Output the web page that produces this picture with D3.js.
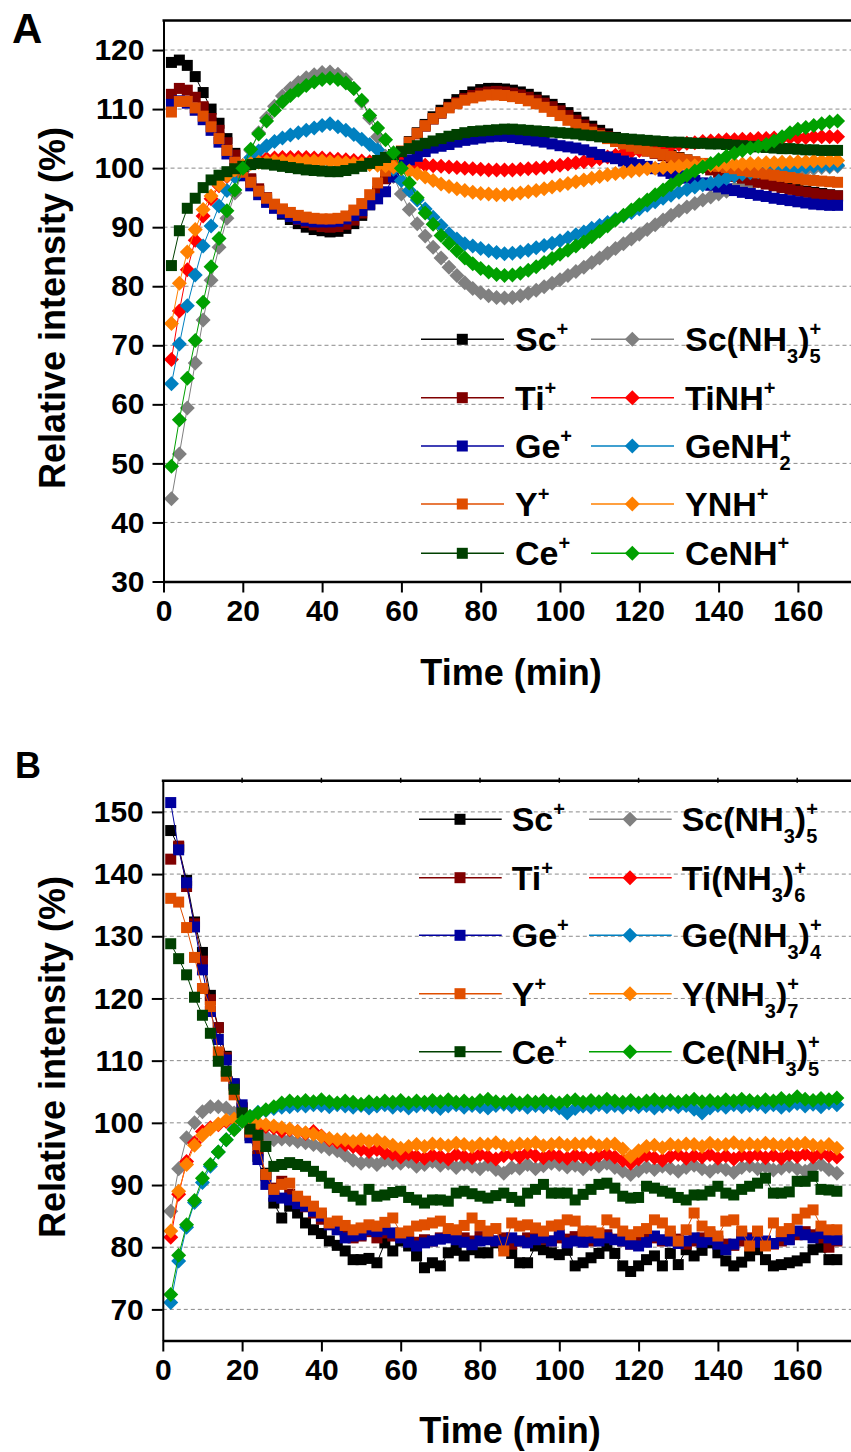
<!DOCTYPE html>
<html><head><meta charset="utf-8">
<script src="https://cdn.jsdelivr.net/npm/d3@7/dist/d3.min.js"></script>
<style>
body{margin:0;background:#fff}
svg text{font-family:Arial,"Liberation Sans",sans-serif;font-weight:bold;fill:#000}
</style>
</head><body>
<svg id="chart" width="851" height="1452"></svg>
<script>
// ---------- DATA ----------
const times=[2,4,6,8,10,12,14,16,18,20,22,24,26,28,30,32,34,36,38,40,42,44,46,48,50,52,54,56,58,60,62,64,66,68,70,72,74,76,78,80,82,84,86,88,90,92,94,96,98,100,102,104,106,108,110,112,114,116,118,120,122,124,126,128,130,132,134,136,138,140,142,144,146,148,150,152,154,156,158,160,162,164,166,168,170];
const xTicks=[0,20,40,60,80,100,120,140,160];
const yTicksA=[30,40,50,60,70,80,90,100,110,120];
const yTicksB=[70,80,90,100,110,120,130,140,150];

// Panel A (ammonia-adduct profiles)
const aSc=[117.9,118.3,117.4,115.5,112.8,110.0,107.6,105.0,102.5,100.2,98.0,96.2,94.6,93.3,92.2,91.3,90.6,90.0,89.6,89.4,89.2,89.3,89.8,90.6,92.0,93.8,96.0,98.3,100.6,102.6,104.5,106.0,107.4,108.7,109.8,110.8,111.6,112.3,112.9,113.3,113.5,113.5,113.4,113.2,112.9,112.5,112.0,111.4,110.8,110.1,109.4,108.6,107.8,107.1,106.4,105.8,105.2,104.7,104.2,103.8,103.4,103.0,102.6,102.2,101.8,101.4,101.0,100.6,100.2,99.8,99.4,99.0,98.6,98.2,97.9,97.6,97.3,97.0,96.7,96.4,96.1,95.9,95.7,95.5,95.3];
const aTi=[112.5,113.5,113.2,112.0,110.4,108.4,106.4,104.3,102.2,100.2,98.2,96.5,95.0,93.8,92.8,92.0,91.3,90.8,90.4,90.1,90.0,90.1,90.5,91.2,92.4,94.0,96.0,98.2,100.4,102.4,104.2,105.8,107.1,108.3,109.3,110.3,111.1,111.8,112.3,112.7,112.9,113.0,112.9,112.7,112.4,112.0,111.5,111.0,110.4,109.7,108.9,108.1,107.3,106.6,105.9,105.3,104.7,104.2,103.7,103.3,102.9,102.5,102.1,101.7,101.3,100.9,100.5,100.1,99.7,99.3,99.0,98.6,98.3,98.0,97.6,97.3,97.0,96.7,96.4,96.1,95.9,95.7,95.5,95.4,95.3];
const aGe=[110.8,111.4,111.0,109.8,108.2,106.4,104.4,102.4,100.5,98.7,97.0,95.5,94.2,93.2,92.4,91.8,91.4,91.1,90.9,90.9,90.9,91.0,91.4,92.0,92.8,93.8,94.8,96.0,98.5,100.5,101.4,102.0,102.8,103.4,103.7,104.0,104.4,104.7,104.9,105.1,105.3,105.4,105.4,105.2,105.0,104.8,104.6,104.4,104.1,103.8,103.6,103.4,103.1,102.7,102.3,101.9,101.6,101.2,100.9,100.6,100.3,99.9,99.5,99.1,98.7,98.3,97.9,97.5,97.1,96.8,96.5,96.2,95.9,95.7,95.4,95.2,94.9,94.7,94.5,94.3,94.1,93.9,93.8,93.7,93.7];
const aY=[109.5,111.3,111.3,110.2,108.8,107.0,105.0,103.0,101.0,99.3,97.6,96.1,94.9,93.9,93.1,92.5,92.0,91.7,91.5,91.4,91.4,91.5,91.9,92.9,94.0,95.5,97.5,99.5,101.3,102.9,104.4,105.9,107.2,108.4,109.4,110.2,110.9,111.5,111.9,112.2,112.4,112.4,112.3,112.1,111.8,111.4,110.9,110.3,109.6,108.9,108.1,107.4,106.7,106.1,105.5,105.0,104.5,104.1,103.7,103.3,102.9,102.6,102.3,102.0,101.7,101.4,101.1,100.8,100.6,100.3,100.1,99.9,99.6,99.4,99.2,99.0,98.8,98.6,98.4,98.2,98.0,97.9,97.8,97.7,97.6];
const aCe=[83.5,89.4,93.2,94.9,96.7,98.0,98.8,99.4,99.9,100.3,100.6,100.8,100.7,100.5,100.3,100.1,99.9,99.7,99.6,99.5,99.4,99.4,99.6,99.9,100.3,100.8,101.3,101.8,102.3,102.8,103.3,103.8,104.2,104.6,105.0,105.4,105.7,106.0,106.2,106.3,106.4,106.5,106.6,106.6,106.5,106.4,106.3,106.2,106.1,106.0,105.9,105.8,105.6,105.5,105.3,105.2,105.1,105.0,104.9,104.8,104.7,104.6,104.5,104.4,104.4,104.3,104.2,104.2,104.1,104.1,104.0,103.9,103.8,103.7,103.6,103.5,103.4,103.3,103.3,103.2,103.1,103.1,103.0,103.0,103.0];
const aScN=[44.0,51.6,59.4,67.0,74.3,81.0,86.6,91.5,95.8,99.5,103.0,106.0,108.5,110.5,112.2,113.5,114.5,115.3,115.8,116.2,116.3,115.9,115.0,113.5,111.3,108.5,105.3,102.0,98.6,95.6,93.0,90.6,88.5,86.6,84.8,83.2,81.8,80.6,79.6,78.9,78.4,78.1,78.0,78.1,78.4,78.8,79.3,79.9,80.5,81.1,81.8,82.5,83.2,84.0,84.8,85.6,86.4,87.2,88.0,88.8,89.6,90.4,91.2,92.0,92.8,93.4,94.0,94.6,95.1,95.6,96.1,96.6,97.0,97.4,97.8,98.2,98.6,98.9,99.2,99.5,99.7,99.9,100.1,100.2,100.3];
const aTiN=[67.6,75.8,82.8,87.8,91.9,94.8,97.0,98.6,99.6,100.4,101.0,101.4,101.6,101.7,101.8,101.8,101.8,101.8,101.7,101.7,101.6,101.5,101.4,101.3,101.2,101.1,101.0,100.9,100.9,100.8,100.7,100.6,100.5,100.4,100.3,100.2,100.1,100.0,99.9,99.8,99.7,99.7,99.7,99.7,99.8,99.9,100.0,100.1,100.3,100.5,100.7,100.9,101.1,101.3,101.6,101.9,102.2,102.5,102.8,103.0,103.2,103.4,103.6,103.8,104.0,104.2,104.3,104.5,104.6,104.7,104.8,104.8,104.9,104.9,105.0,105.0,105.1,105.1,105.2,105.2,105.2,105.3,105.3,105.3,105.3];
const aGeN=[63.5,70.2,76.7,81.9,86.8,90.2,93.6,96.2,98.5,100.4,101.8,102.9,103.8,104.5,105.1,105.6,106.0,106.4,106.8,107.2,107.5,107.0,106.4,105.7,104.9,104.0,103.1,101.6,99.8,97.9,96.2,94.6,93.1,91.7,90.3,88.9,88.0,87.2,86.8,86.4,86.0,85.7,85.5,85.6,85.8,86.1,86.5,86.9,87.3,87.7,88.2,88.7,89.2,89.8,90.3,90.8,91.4,91.9,92.5,93.1,93.7,94.3,94.9,95.4,95.9,96.4,96.8,97.2,97.5,97.8,98.3,98.7,99.0,99.2,99.4,99.6,99.8,99.9,100.0,100.1,100.2,100.3,100.4,100.4,100.5];
const aYN=[73.7,80.5,85.8,89.6,93.0,95.3,97.2,98.7,99.7,100.4,100.8,101.0,101.1,101.2,101.2,101.2,101.2,101.2,101.2,101.2,101.1,101.0,100.9,100.8,100.7,100.6,100.5,100.4,100.2,99.9,99.5,99.1,98.5,97.9,97.3,96.9,96.5,96.2,95.9,95.7,95.6,95.5,95.5,95.6,95.8,96.0,96.2,96.5,96.8,97.1,97.4,97.7,98.0,98.3,98.6,98.9,99.1,99.3,99.5,99.7,99.9,100.0,100.1,100.2,100.3,100.4,100.4,100.5,100.5,100.6,100.6,100.7,100.7,100.8,100.8,100.9,100.9,101.0,101.0,101.1,101.1,101.2,101.2,101.3,101.3];
const aCeN=[49.5,57.4,64.4,70.8,77.3,83.3,88.1,92.8,96.3,100.0,103.2,105.8,108.0,109.8,111.2,112.3,113.2,114.0,114.6,115.0,115.2,115.0,114.4,113.5,111.5,108.9,106.8,104.8,102.6,100.0,97.5,95.0,92.4,90.5,88.6,87.3,86.0,84.8,83.8,83.0,82.4,82.0,81.8,81.9,82.2,82.7,83.3,84.0,84.7,85.4,86.1,86.8,87.5,88.4,89.3,90.2,91.2,92.0,92.9,93.8,94.6,95.5,96.3,97.2,98.0,98.8,99.5,100.2,100.8,101.4,102.0,102.5,103.0,103.4,103.7,104.0,104.6,105.3,106.0,106.6,106.9,107.2,107.5,107.8,108.0];

// Panel B (cluster profiles)
const bSc=[147.0,144.3,139.0,132.3,127.4,120.5,115.3,110.7,106.0,102.3,98.0,94.6,91.9,87.1,84.7,86.6,85.5,83.9,82.8,82.2,81.0,80.3,79.4,78.0,78.0,78.2,77.5,80.7,79.4,81.0,80.2,78.6,76.7,77.5,77.0,79.1,79.5,78.6,79.6,79.1,79.1,80.7,80.2,79.0,77.5,77.5,80.2,79.6,79.1,78.8,79.5,77.0,77.5,78.3,79.0,80.2,79.0,77.0,76.1,77.0,78.0,78.6,77.0,79.0,77.2,79.6,78.6,79.5,80.7,79.1,77.8,77.0,77.6,78.6,79.6,78.0,77.0,77.2,77.5,77.8,78.3,79.6,80.0,78.0,78.0];
const bTi=[142.4,144.5,138.0,132.0,126.0,119.8,115.3,110.5,106.2,102.5,98.5,95.5,91.5,89.5,90.6,88.5,87.5,86.5,85.5,84.5,83.8,82.9,82.5,81.5,81.8,82.5,81.5,82.3,81.8,82.0,81.5,80.8,81.2,81.0,81.5,81.8,82.0,81.5,81.0,81.7,81.3,81.0,81.5,80.5,81.0,81.5,82.0,81.3,81.0,81.5,81.3,81.7,82.0,81.0,81.5,82.0,81.3,81.0,80.5,81.0,81.8,81.5,81.0,81.7,81.3,80.5,81.0,81.5,82.0,81.0,80.5,80.3,81.0,81.5,82.0,80.8,80.5,81.0,81.3,82.0,82.5,82.0,81.5,80.0,81.0];
const bGe=[151.5,143.9,138.6,131.5,124.6,117.9,113.4,110.1,106.3,102.9,97.6,94.1,90.1,88.2,87.9,87.6,87.0,86.6,85.8,85.0,83.6,82.8,81.5,81.8,82.0,82.8,82.5,82.8,82.3,81.5,80.8,80.2,80.7,81.0,81.3,81.5,81.2,80.8,80.4,81.0,81.2,81.0,80.8,81.5,81.0,80.7,81.2,81.5,81.0,82.0,80.7,81.0,80.8,81.5,81.0,81.5,81.2,81.0,80.5,80.2,80.8,81.8,81.2,81.0,80.6,81.0,81.5,80.8,81.2,80.5,79.6,80.5,82.0,81.2,80.8,81.0,80.6,81.8,81.2,82.6,82.0,81.5,82.2,81.5,81.2];
const bY=[136.1,135.5,131.4,126.6,121.6,118.7,111.4,107.5,104.5,101.5,98.5,96.5,91.7,89.3,90.1,90.3,88.2,87.4,86.6,85.5,83.9,84.2,83.5,82.8,83.1,83.6,83.4,84.0,84.7,82.3,82.6,83.4,83.6,83.9,84.2,83.0,82.8,83.5,84.7,83.5,82.6,83.0,79.4,83.9,83.4,83.6,83.1,82.6,83.4,83.6,84.4,84.2,82.6,82.6,82.3,84.4,83.9,82.6,82.0,82.5,83.0,84.4,83.9,82.6,81.0,82.8,85.5,83.4,82.5,81.8,84.2,84.4,82.6,80.2,82.6,80.2,83.9,82.5,83.0,84.5,85.5,86.0,83.4,82.8,82.8];
const bCe=[128.8,126.4,123.8,120.2,117.3,114.4,109.9,108.3,105.4,101.6,99.0,98.0,96.2,93.0,93.3,93.6,93.3,93.0,92.2,91.4,90.3,89.6,89.0,88.2,87.6,89.3,88.2,88.4,88.8,89.0,88.0,87.6,87.1,87.6,87.6,87.4,88.7,89.0,88.6,88.2,87.9,88.3,88.7,88.0,87.4,88.7,89.3,90.1,88.7,88.7,88.7,87.6,88.5,89.3,90.1,90.3,89.5,88.2,87.9,88.0,89.8,89.5,89.0,88.7,88.0,87.6,88.4,88.4,89.0,89.8,88.7,88.4,89.3,89.8,90.3,91.1,88.7,88.7,88.9,90.6,90.6,91.4,89.3,89.2,89.0];
const bScN=[85.8,92.6,97.6,100.0,101.8,102.6,102.6,102.4,101.6,100.8,99.5,98.4,97.8,97.3,97.4,97.3,97.0,96.8,96.5,96.2,95.8,95.5,94.8,94.0,93.5,93.8,93.3,94.0,93.6,93.5,93.8,93.0,93.3,93.8,93.2,93.5,92.8,93.4,93.0,92.6,93.3,92.5,91.9,92.8,92.7,93.3,92.6,93.1,93.5,93.3,92.9,93.2,92.6,93.4,93.0,93.5,92.8,92.2,91.7,92.3,92.9,92.5,93.0,92.7,92.2,92.8,93.2,92.6,92.2,92.9,92.5,92.0,92.8,93.1,92.6,93.0,92.4,92.7,93.0,92.6,92.2,92.9,93.3,92.5,91.9];
const bTiN=[81.6,88.5,93.8,96.8,98.6,99.2,99.7,100.2,100.5,100.3,100.0,99.6,99.4,99.2,98.7,98.9,98.6,98.3,98.6,97.9,97.3,96.9,96.5,96.2,95.7,95.4,95.7,95.2,95.0,94.5,95.0,94.6,94.3,94.8,94.6,94.2,94.9,94.6,94.4,94.9,94.6,94.2,94.7,95.0,94.5,95.2,94.7,94.4,94.9,94.6,94.3,94.8,94.6,94.2,94.8,95.0,94.5,94.0,93.5,94.2,94.8,94.4,94.0,94.6,94.9,94.3,94.7,94.5,94.9,94.3,94.7,94.2,94.8,94.5,94.9,94.4,94.8,94.3,94.9,94.6,95.0,94.5,95.1,94.7,94.5];
const bGeN=[71.1,77.8,83.2,87.2,90.4,93.0,95.3,97.3,99.0,100.3,101.0,101.7,102.0,102.3,102.5,102.6,102.8,102.7,102.9,102.8,102.6,102.9,102.7,102.5,102.8,102.4,102.7,102.9,102.5,102.8,102.4,102.7,102.9,102.6,102.3,102.7,102.9,102.5,102.8,102.6,102.4,102.8,103.0,102.6,102.9,102.5,102.8,102.6,102.9,102.4,101.6,102.3,102.7,102.5,102.9,102.6,102.8,102.5,102.9,102.6,102.8,102.4,102.7,103.0,102.6,102.8,102.2,101.6,102.4,102.8,102.5,102.9,102.6,102.8,103.0,102.6,102.9,102.5,102.8,103.1,102.7,103.0,102.6,103.2,102.9];
const bYN=[82.6,89.0,93.3,96.4,98.0,99.0,99.8,100.4,100.6,100.5,100.3,100.0,99.7,99.5,99.2,99.0,98.6,98.4,98.2,97.8,97.5,97.3,97.3,97.0,97.3,97.0,97.2,96.8,96.4,95.9,96.2,96.5,96.2,96.6,96.5,96.3,96.7,96.5,96.2,96.6,96.5,96.8,96.4,96.2,96.6,96.5,96.8,96.3,96.5,96.7,96.4,96.6,96.5,96.8,96.3,96.5,96.6,95.8,94.6,95.5,96.2,96.4,96.0,96.5,96.3,96.6,96.5,96.2,96.7,96.4,96.5,96.8,96.3,96.6,96.4,96.7,96.5,96.3,96.6,96.5,96.7,96.4,96.2,96.5,95.9];
const bCeN=[72.4,78.7,83.6,87.5,91.1,93.3,95.3,97.3,98.9,100.2,101.0,101.6,102.1,102.6,103.2,103.5,103.3,103.6,103.4,103.7,103.4,103.2,103.5,103.3,103.0,103.4,103.2,103.5,103.3,103.6,103.2,103.5,103.3,103.6,103.4,103.7,103.3,103.5,103.2,103.6,103.8,103.4,103.3,103.6,103.2,103.5,103.3,103.6,103.4,103.2,103.5,103.7,103.3,103.6,103.4,103.8,103.5,103.3,103.6,103.2,103.5,103.7,103.4,103.6,103.3,103.5,103.8,103.4,103.6,103.3,103.7,103.5,103.8,103.6,103.4,103.7,103.5,103.9,103.6,104.2,103.8,103.6,103.9,103.7,104.0];

// labels: ^x = superscript, _x = subscript; ^ followed directly by _ is stacked
const namesA=["Sc^+","Ti^+","Ge^+","Y^+","Ce^+","Sc(NH_3)^+_5","TiNH^+","GeNH^+_2","YNH^+","CeNH^+"];
const namesB=["Sc^+","Ti^+","Ge^+","Y^+","Ce^+","Sc(NH_3)^+_5","Ti(NH_3)^+_6","Ge(NH_3)^+_4","Y(NH_3)^+_7","Ce(NH_3)^+_5"];
const colors=["#000000","#800000","#00009E","#E04E00","#004000","#808080","#FF0000","#0080C0","#FF8000","#00A000"];
const shapes=["square","square","square","square","square","diamond","diamond","diamond","diamond","diamond"];

// ---------- DRAW ----------
const svg=d3.select("#chart");
const FS_TICK=30, FS_TITLE=36, FS_LEG=34, FS_SML=20;
const SQ=5.5, DI=7.5;

function drawMarker(g,shape,x,y,color){
  if(shape==="square"){
    g.append("rect").attr("x",x-SQ).attr("y",y-SQ).attr("width",2*SQ).attr("height",2*SQ).attr("fill",color);
  }else{
    g.append("path").attr("d",`M${x},${y-DI}L${x+DI},${y}L${x},${y+DI}L${x-DI},${y}Z`).attr("fill",color);
  }
}

function richLabel(g,str,x,y){
  const t=g.append("text").attr("x",x).attr("y",y).attr("font-size",FS_LEG);
  let cur=0; let i=0; let lastSupW=0; let prevSup=false;
  while(i<str.length){
    const c=str[i];
    if(c==="^"||c==="_"){
      const ch=str[i+1]; i+=2;
      const target = c==="^" ? -15 : 12;
      const ts=t.append("tspan").attr("font-size",FS_SML).attr("dy",target-cur).text(ch);
      if(c==="_" && prevSup){ ts.attr("dx",-lastSupW); }
      if(c==="^"){ prevSup=true; lastSupW=0.584*FS_SML; } else prevSup=false;
      cur=target;
    }else{
      let s=""; while(i<str.length && str[i]!=="^" && str[i]!=="_"){ s+=str[i]; i++; }
      t.append("tspan").attr("dy",0-cur).text(s);
      cur=0; prevSup=false;
    }
  }
}

function panel(cfg){
  const x=d3.scaleLinear().domain([0,175]).range([cfg.x0,cfg.x0+175*3.965]);
  const y=d3.scaleLinear().domain(cfg.yDomain).range([cfg.yBottom,cfg.yTop]);
  const g=svg.append("g");
  // grid
  g.selectAll("line.grid").data(cfg.yTicks.filter(v=>v>cfg.yDomain[0])).join("line")
    .attr("x1",cfg.x0).attr("x2",851).attr("y1",d=>y(d)).attr("y2",d=>y(d))
    .attr("stroke","#8a8a8a").attr("stroke-width",1).attr("stroke-dasharray","4,3");
  // series (interleaved order)
  const order=[0,5,1,6,2,7,3,8,4,9];
  const line=d3.line().x((d,i)=>x(times[i])).y(d=>y(d));
  order.forEach(k=>{
    const vals=cfg.series[k];
    const sg=g.append("g");
    sg.append("path").attr("d",line(vals)).attr("fill","none").attr("stroke",colors[k]).attr("stroke-width",1);
    vals.forEach((v,i)=>drawMarker(sg,shapes[k],x(times[i]),y(v),colors[k]));
  });
  // axes
  const ax=g.append("g").attr("transform",`translate(0,${cfg.yBottom})`)
    .call(d3.axisBottom(x).tickValues(xTicks).tickSize(11).tickPadding(7).tickSizeOuter(0).tickFormat(d3.format("d")));
  ax.select(".domain").attr("stroke-width",2.5).attr("stroke","#000");
  ax.selectAll(".tick line").attr("stroke-width",2).attr("stroke","#000");
  ax.selectAll("text").attr("font-size",FS_TICK).attr("font-family",null).attr("fill","#000");
  const ay=g.append("g").attr("transform",`translate(${cfg.x0},0)`)
    .call(d3.axisLeft(y).tickValues(cfg.yTicks).tickSize(11).tickPadding(8).tickSizeOuter(0).tickFormat(d3.format("d")));
  ay.select(".domain").attr("stroke-width",2).attr("stroke","#000");
  ay.selectAll(".tick line").attr("stroke-width",2).attr("stroke","#000");
  ay.selectAll("text").attr("font-size",FS_TICK).attr("font-family",null).attr("fill","#000");
  // top frame
  g.append("line").attr("x1",cfg.x0-1).attr("x2",851).attr("y1",cfg.yTop).attr("y2",cfg.yTop).attr("stroke","#000").attr("stroke-width",2.5);
  if(cfg.topTicks){
    g.selectAll("line.tt").data(xTicks.slice(1)).join("line")
      .attr("x1",d=>x(d)).attr("x2",d=>x(d)).attr("y1",cfg.yTop-3).attr("y2",cfg.yTop+2).attr("stroke","#000").attr("stroke-width",1.5);
  }
  // titles
  g.append("text").attr("x",cfg.xTitleX).attr("y",cfg.xTitleY).attr("text-anchor","middle").attr("font-size",FS_TITLE).text("Time (min)");
  g.append("text").attr("transform",`translate(65,${cfg.yTitleY}) rotate(-90)`).attr("text-anchor","middle").attr("font-size",FS_TITLE).text("Relative intensity (%)");
  g.append("text").attr("x",cfg.letterX).attr("y",cfg.letterY).attr("font-size",cfg.letterSize).text(cfg.letter);
  // legend
  const lg=g.append("g");
  for(let k=0;k<10;k++){
    const col=cfg.legCols[k<5?0:1]; const ry=cfg.legRows[k%5];
    lg.append("line").attr("x1",col.l1).attr("x2",col.l2).attr("y1",ry).attr("y2",ry).attr("stroke",colors[k]).attr("stroke-width",1.6);
    drawMarker(lg,shapes[k],col.m,ry,colors[k]);
    richLabel(lg,cfg.names[k],col.t,ry+12);
  }
}

panel({x0:163.5,yDomain:[30,125],yBottom:581.5,yTop:20.5,yTicks:yTicksA,
  series:[aSc,aTi,aGe,aY,aCe,aScN,aTiN,aGeN,aYN,aCeN],names:namesA,
  xTitleX:511,xTitleY:685,yTitleY:308,letter:"A",letterX:12,letterY:43,letterSize:42,topTicks:false,
  legRows:[339.3,397.7,446,504,553.3],
  legCols:[{l1:421,l2:504,m:462.3,t:515},{l1:591,l2:674,m:632.3,t:685}]});

panel({x0:162.8,yDomain:[65,155],yBottom:1340.5,yTop:780.8,yTicks:yTicksB,
  series:[bSc,bTi,bGe,bY,bCe,bScN,bTiN,bGeN,bYN,bCeN],names:namesB,
  xTitleX:510,xTitleY:1443,yTitleY:1057,letter:"B",letterX:15,letterY:778,letterSize:36,topTicks:true,
  legRows:[819.3,877.7,935.3,993.7,1051.7],
  legCols:[{l1:419,l2:501.7,m:460,t:511.7},{l1:589,l2:671.7,m:630,t:681.7}]});
</script>
</body></html>
